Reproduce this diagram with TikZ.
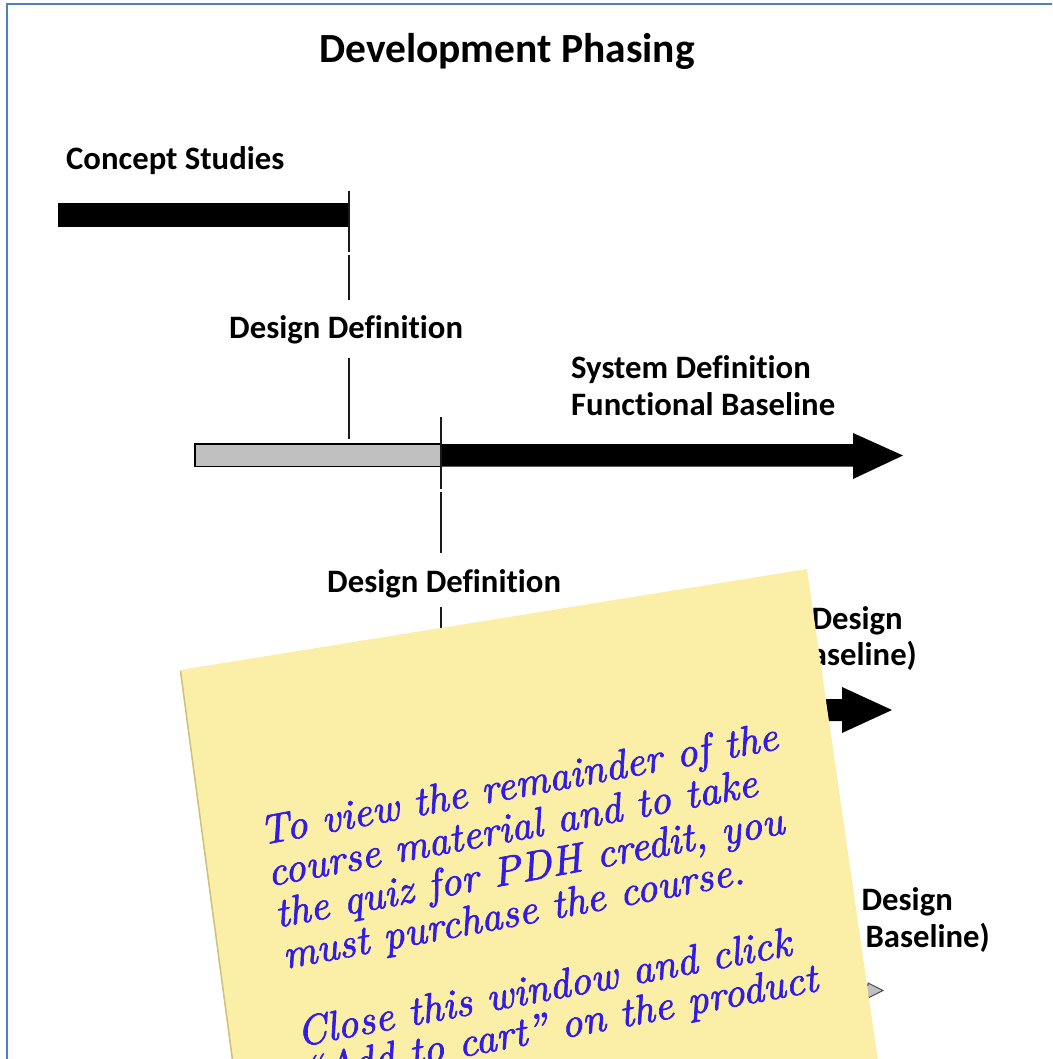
\documentclass[tikz,border=0pt]{standalone}
\usepackage{fontspec}
\newfontfamily\carl{Carlito}[Ligatures={NoCommon,NoContextual,NoRequired}]
\newfontfamily\hand{lmroman10-italic}[Extension=.otf, FakeBold=1.6]
\definecolor{frameblue}{RGB}{79,129,189}
\definecolor{barGray}{RGB}{192,192,192}
\definecolor{noteYellow}{RGB}{251,238,166}
\definecolor{noteEdge}{RGB}{205,192,128}
\definecolor{inkBlue}{RGB}{48,28,230}
\definecolor{tickCol}{RGB}{25,25,25}
\tikzset{
  lbl/.style={font=\carl\bfseries\fontsize{32.7}{36}\selectfont, inner sep=0pt, anchor=base west},
  lble/.style={lbl, anchor=base east},
  ttl/.style={font=\carl\bfseries\fontsize{41.5}{44}\selectfont, inner sep=0pt, anchor=base},
  tick/.style={draw=tickCol, line width=1.8pt},
  hand/.style={font=\hand\fontsize{41.5}{46}\selectfont, text=inkBlue, inner sep=0pt, anchor=base west}
}
\begin{document}
\begin{tikzpicture}[x=1pt,y=-1pt]
\useasboundingbox (0,0) rectangle (1052,1059);
\clip (0,0) rectangle (1052,1059);
\fill[white] (0,0) rectangle (1052,1059);
% frame
\draw[frameblue, line width=2pt] (7,1120) -- (7,4) -- (1120,4);
% title
\node[ttl] (title) at (507,63) {Development Phasing};
% concept studies
\node[lbl] (cs) at (66,170) {Concept Studies};
\fill[black] (58,203) rectangle (349,227);
\coordinate (a1) at (349,191); \coordinate (a2) at (349,252);
\coordinate (a3) at (349,255); \coordinate (a4) at (349,300);
\draw[tick] (a1) -- (a2); \draw[tick] (a3) -- (a4);
\node[lbl] (dd1) at (229,338) {Design Definition};
\coordinate (b1) at (349,358); \coordinate (b2) at (349,439);
\draw[tick] (b1) -- (b2);
% system definition
\node[lbl] (sd) at (571,378) {System Definition};
\node[lbl] (fb) at (571,415) {Functional Baseline};
\filldraw[fill=barGray, draw=black, line width=1.5pt] (195,444) rectangle (441,466.5);
\fill[black] (441,444) -- (853,444) -- (853,433) -- (903,455.5) -- (853,479) -- (853,466.5) -- (441,466.5) -- cycle;
\coordinate (c1) at (441,417); \coordinate (c2) at (441,489);
\coordinate (c3) at (441,492); \coordinate (c4) at (441,553);
\draw[tick] (c1) -- (c2); \draw[tick] (c3) -- (c4);
\node[lbl] (dd2) at (327,592) {Design Definition};
\coordinate (d1) at (441,607); \coordinate (d2) at (441,700);
\draw[tick] (d1) -- (d2);
% preliminary design
\node[lble] (pd) at (903,629) {Preliminary Design};
\node[lble] (ab) at (917,665) {(Allocated Baseline)};
\fill[black] (441,699) -- (842,699) -- (842,687) -- (892,710) -- (842,733) -- (842,721) -- (441,721) -- cycle;
% detailed design
\node[lble] (ddn) at (953,910) {Detailed Design};
\node[lble] (pb) at (990,947) {(Product Baseline)};
\filldraw[fill=barGray, draw=black!70, line width=1pt] (700,985) -- (868,985) -- (868,983) -- (883,990.5) -- (868,998) -- (868,996) -- (700,996) -- cycle;
% sticky note
\fill[noteYellow] (180,670) -- (807,569) -- (880,1075) -- (234,1075) -- cycle;
\draw[noteEdge, line width=1.5pt] (180.5,671) -- (234.5,1075);
\begin{scope}[shift={(262,845)}, rotate=10.5, transform shape]
\node[hand] (l1) at (0,0) {To view the remainder of the};
\node[hand] (l2) at (0,42) {course material and to take};
\node[hand] (l3) at (0,84) {the quiz for PDH credit, you};
\node[hand] (l4) at (0,126) {must purchase the course.};
\node[hand] (l5) at (0,205) {Close this window and click};
\node[hand] (l6) at (0,245) {“Add to cart” on the product};
\end{scope}
\end{tikzpicture}
\end{document}
